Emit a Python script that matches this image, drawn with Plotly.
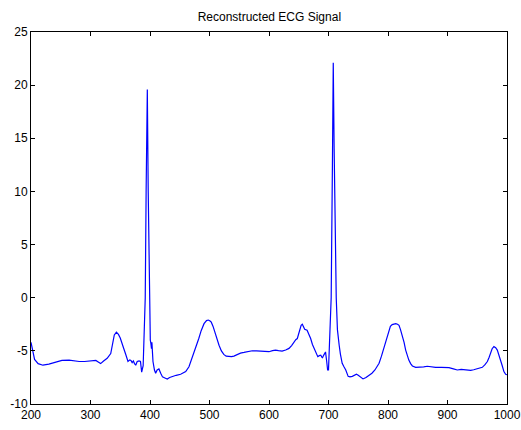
import plotly.graph_objects as go

x_vals = [200, 203, 206, 212, 220, 230, 240, 252, 264, 272, 281, 290, 298, 304, 309, 313, 317, 322, 328, 334,
          337, 340, 343.5, 347, 350, 353.5, 356, 359, 363, 366, 368, 370, 372, 374, 376, 378.5, 381.5, 384, 386, 388.5,
          390, 392, 393.5, 395.5, 397, 399, 400.5, 401.5, 402.5, 403.2, 405, 407.5, 409.5, 412, 415, 418, 421, 425, 429, 433,
          437.5, 444, 451.5, 456, 460, 465.5, 470, 474, 478, 482, 486, 490.8, 495, 498, 501, 503, 506, 508.7, 512, 516,
          520, 524, 528, 533, 537, 541, 546, 552, 558, 565, 572, 579, 586, 593, 600, 606, 611, 616, 622, 628,
          633.6, 638, 642, 645, 647.6, 650, 652, 654, 656, 658, 660, 664, 667, 670, 673, 677, 680, 682, 684.5, 687,
          689, 690, 692, 695, 697, 698.5, 700, 702, 704.5, 706.5, 708, 709.5, 711, 713, 715, 717, 718, 720, 723, 726,
          729, 733, 736, 740, 744, 747, 750, 754, 758, 763, 768, 773, 778, 785, 789, 793, 797, 801.7, 804, 807,
          810, 813, 816, 818.5, 821, 824, 827, 829.7, 832, 835, 838, 841, 846.5, 850, 855, 860, 866, 872, 880, 890,
          902.5, 910, 916.5, 923, 930.6, 935, 939, 944, 950, 954, 958.5, 963, 967, 970, 972.6, 975, 978, 981, 983.7, 986,
          989, 992, 994.8, 997.7, 1000]
y_vals = [-4.2, -5.0, -5.8, -6.2, -6.35, -6.25, -6.1, -5.9, -5.88, -5.95, -6.0, -6.0, -5.98, -5.92, -5.9, -6.05, -6.2, -5.95, -5.7, -5.25,
          -4.4, -3.5, -3.25, -3.45, -3.8, -4.3, -4.8, -5.3, -6.0, -5.85, -5.9, -6.1, -5.95, -6.2, -6.35, -6.0, -5.95, -6.0, -7.0, -6.4,
          -3.0, 0.0, 10.0, 19.6, 10.0, 0.0, -4.0, -4.3, -4.8, -4.2, -6.0, -6.8, -7.1, -6.8, -6.7, -7.1, -7.45, -7.55, -7.65, -7.5,
          -7.4, -7.3, -7.2, -7.1, -6.95, -6.5, -5.8, -5.1, -4.5, -3.84, -3.1, -2.44, -2.15, -2.1, -2.2, -2.3, -2.7, -3.2, -3.8, -4.47,
          -5.0, -5.33, -5.5, -5.55, -5.55, -5.49, -5.35, -5.21, -5.15, -5.05, -4.99, -5.0, -5.02, -5.05, -5.08, -4.98, -4.93, -4.98, -5.02, -4.92,
          -4.77, -4.5, -4.15, -3.95, -3.84, -3.4, -2.9, -2.6, -2.5, -2.8, -2.97, -3.06, -3.4, -3.84, -4.4, -4.93, -5.3, -5.55, -5.45, -5.4,
          -5.6, -5.64, -5.4, -5.1, -6.0, -6.8, -6.8, -4.0, 0.0, 12.0, 22.1, 14.0, 6.0, 0.0, -3.0, -4.4, -4.5, -5.3, -6.17, -6.5,
          -6.8, -7.4, -7.45, -7.4, -7.25, -7.2, -7.3, -7.5, -7.64, -7.5, -7.33, -7.1, -6.8, -6.17, -5.5, -4.77, -3.9, -3.06, -2.7, -2.53,
          -2.45, -2.44, -2.5, -2.6, -3.0, -3.53, -4.2, -4.93, -5.4, -5.87, -6.2, -6.42, -6.55, -6.55, -6.52, -6.5, -6.45, -6.5, -6.55, -6.55,
          -6.58, -6.7, -6.8, -6.75, -6.77, -6.85, -6.83, -6.78, -6.7, -6.65, -6.55, -6.3, -6.0, -5.6, -5.1, -4.8, -4.6, -4.7, -4.93, -5.3,
          -5.87, -6.4, -6.95, -7.2, -7.25]

x_ticks = [200, 300, 400, 500, 600, 700, 800, 900, 1000]
y_ticks = [-10, -5, 0, 5, 10, 15, 20, 25]
title_text = "Reconstructed ECG Signal"

fig = go.Figure()
fig.add_trace(go.Scatter(x=x_vals, y=y_vals, mode="lines",
                         line=dict(color="#0000ff", width=1.2), showlegend=False, hoverinfo="skip"))

axis_common = dict(showline=True, linecolor="black", linewidth=1, mirror="ticks",
                   ticks="inside", ticklen=4, tickcolor="black", tickwidth=1,
                   showgrid=False, zeroline=False, automargin=False,
                   tickfont=dict(family="Liberation Sans, Arial, sans-serif", size=12, color="black"))

fig.update_layout(
    width=521, height=430,
    margin=dict(l=31, r=14, t=32, b=26, autoexpand=False),
    paper_bgcolor="white", plot_bgcolor="white",
    title=dict(text=title_text, x=0.517, xanchor="center", y=0.962, yanchor="middle",
               font=dict(family="Liberation Sans, Arial, sans-serif", size=12, color="black")),
    xaxis=dict(range=[200, 1000], tickvals=x_ticks, ticktext=[str(v) for v in x_ticks], **axis_common),
    yaxis=dict(range=[-10, 25], tickvals=y_ticks, ticktext=[str(v) for v in y_ticks], **axis_common),
)

fig.write_html("out.html", config={"displayModeBar": False, "staticPlot": True},
               post_script="document.body.style.margin='0';document.body.style.overflow='hidden';")
